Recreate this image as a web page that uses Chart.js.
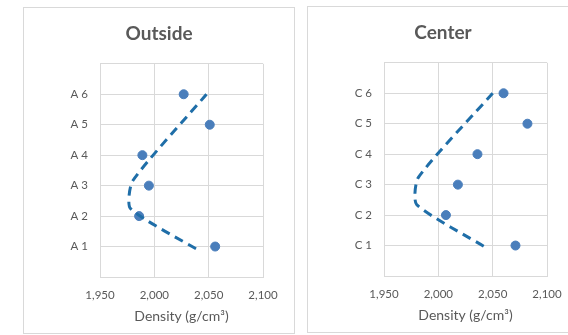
<!DOCTYPE html>
<html>
<head>
<meta charset="utf-8">
<script src="https://cdn.jsdelivr.net/npm/chart.js@4"></script>
<style>
    html, body { margin: 0; padding: 0; background: #ffffff; overflow: hidden; }
    body { width: 568px; height: 335px; position: relative; }
    .panel {
        position: absolute;
        border: 1px solid #d9d9d9;
        background: #ffffff;
        width: 270px;
        height: 325px;
    }
    #panelOutside { left: 23px; top: 7px; }
    #panelCenter { left: 307px; top: 6px; }
    .panel canvas { display: block; }
</style>
</head>
<body>
<div class="panel" id="panelOutside"><canvas id="outsideChart" width="270" height="325"></canvas></div>
<div class="panel" id="panelCenter"><canvas id="centerChart" width="270" height="325"></canvas></div>
<script>
// Position labels (y = 1..6)
const outsideLabels = ['A 1', 'A 2', 'A 3', 'A 4', 'A 5', 'A 6'];
const centerLabels = ['C 1', 'C 2', 'C 3', 'C 4', 'C 5', 'C 6'];
const positions = [1, 2, 3, 4, 5, 6];

// Measured density (g/cm3)
const outsideDensity = [2056, 1986, 1995, 1989, 2051, 2027];
const centerDensity = [2071, 2007, 2018, 2036, 2082, 2060];

// Dashed profile line
const outsideTrendX = [2048, 1980, 1978, 2042];
const outsideTrendY = [6, 3.15, 2.25, 0.85];
const centerTrendX = [2050, 1981.5, 1980, 2043];
const centerTrendY = [6, 3.23, 2.35, 0.95];

// Axis ticks
const densityMin = 1950;
const densityMax = 2100;
const densityStep = 50;

const textColor = '#595959';
const gridColor = '#d9d9d9';
const fontFamily = 'Lato, "Open Sans", sans-serif';

function makeChart(canvasId, title, labels, density, trendX, trendY) {
    const points = positions.map((p, i) => ({ x: density[i], y: p }));
    const trend = trendX.map((x, i) => ({ x: x, y: trendY[i] }));

    return new Chart(document.getElementById(canvasId), {
        type: 'scatter',
        data: {
            datasets: [
                {
                    label: 'Profile',
                    data: trend,
                    showLine: true,
                    borderColor: '#1f6ea8',
                    borderWidth: 3,
                    borderDash: [9, 6],
                    tension: 0.2,
                    pointRadius: 0,
                    fill: false
                },
                {
                    label: 'Density',
                    data: points,
                    backgroundColor: '#4a7ebb',
                    borderColor: '#4a7ebb',
                    pointRadius: 4.5,
                    pointHoverRadius: 4.5
                }
            ]
        },
        options: {
            responsive: false,
            animation: false,
            events: [],
            // symmetric side padding keeps the title centred on the panel
            layout: {
                padding: { left: 31, right: 31, top: 0, bottom: 0 }
            },
            plugins: {
                legend: { display: false },
                tooltip: { enabled: false },
                title: {
                    display: true,
                    text: title,
                    color: textColor,
                    font: { family: fontFamily, size: 19, weight: 'bold' },
                    padding: { top: 14, bottom: 19 }
                }
            },
            scales: {
                x: {
                    type: 'linear',
                    min: densityMin,
                    max: densityMax,
                    afterFit: function(scale) { scale.height = 56; },
                    grid: { color: gridColor, drawTicks: false },
                    border: { color: gridColor },
                    ticks: {
                        stepSize: densityStep,
                        color: textColor,
                        padding: 11,
                        maxRotation: 0,
                        font: { family: fontFamily, size: 11.5 }
                    },
                    title: {
                        display: true,
                        text: 'Density (g/cm\u00b3)',
                        color: textColor,
                        font: { family: fontFamily, size: 14 },
                        padding: { top: 0, bottom: 8 }
                    }
                },
                y: {
                    type: 'linear',
                    min: 0,
                    max: 7,
                    afterFit: function(scale) { scale.width = 45; },
                    grid: { color: gridColor, drawTicks: false },
                    border: { color: gridColor },
                    ticks: {
                        stepSize: 1,
                        color: textColor,
                        padding: 12,
                        font: { family: fontFamily, size: 11.5 },
                        callback: function(value) {
                            const idx = positions.indexOf(value);
                            return idx >= 0 ? labels[idx] : '';
                        }
                    }
                }
            }
        }
    });
}

makeChart('outsideChart', 'Outside', outsideLabels, outsideDensity, outsideTrendX, outsideTrendY);
makeChart('centerChart', 'Center', centerLabels, centerDensity, centerTrendX, centerTrendY);
</script>
</body>
</html>
